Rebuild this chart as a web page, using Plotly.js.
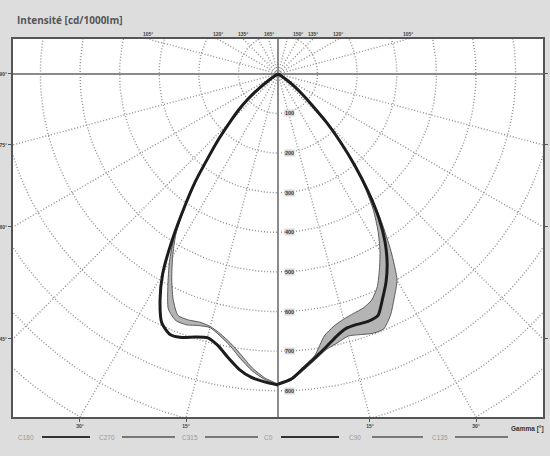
<!DOCTYPE html>
<html><head><meta charset="utf-8">
<script src="https://cdn.plot.ly/plotly-3.0.1.min.js"></script>
<style>html,body{margin:0;padding:0;background:#dddddd;}#chart{width:550px;height:456px;}</style>
</head><body><div id="chart"></div>
<script>
// ---- data (gamma in degrees, intensity in cd/1000lm) ----
const gammaDeg = [0,2.5,5,7.5,10,12.5,15,17.5,20,22.5,25,27.5,30,32.5,35,37.5,40,42.5,45,47.5,50,52.5,55,57.5,60];
// left half-planes
const C180 = [785,778,769,752,727,702,689,696,708,712,694,645,582,497,414,343,271,218,171,135,98,62,30,8,0];
const C270 = [783,768,745,715,690,672,660,657,661,660,627,581,532,480,410,338,268,215,168,132,96,60,28,7,0];
const C315 = [784,772,752,725,697,677,663,666,674,674,655,602,548,488,412,340,270,216,170,134,97,61,29,8,0];
// right half-planes
const C0   = [783,771,745,722,700,679,665,663,665,660,625,591,551,503,444,373,301,234,174,116,80,52,28,10,0];
const C90  = [786,774,750,727,706,695,685,690,697,697,672,636,601,531,455,376,303,235,175,117,81,53,29,10,0];
const C135 = [782,768,742,716,672,652,641,634,629,618,593,555,515,470,420,360,295,225,170,113,78,50,27,9,0];

const legendNames = ['C180','C270','C315','C0','C90','C135'];
const radialLabels = [100,200,300,400,500,600,700,800];
const gridRadii = [100,200,300,400,500,600,700,800,900,1000,1100,1200];
const sideAngles = [90,75,60,45];
const bottomAngles = [30,15];
const topAnglesLeft = [105,120,135,165];
const topAnglesRight = [150,135,120,105];

// ---- geometry ----
const XR = [-669, 669], YR = [-866, 88];
const rad = d => d*Math.PI/180;
function toXY(vals, side){
  return {x: vals.map((r,i)=> side*r*Math.sin(rad(gammaDeg[i]))),
          y: vals.map((r,i)=> -r*Math.cos(rad(gammaDeg[i])))};
}
const traces = [];
// grid circles
let gx=[], gy=[];
gridRadii.forEach(r=>{
  for(let a=0;a<=360;a+=2){gx.push(r*Math.sin(rad(a))); gy.push(-r*Math.cos(rad(a)));}
  gx.push(null); gy.push(null);
});
// radial lines
for(let a=-165;a<=165;a+=15){
  if(a===0||Math.abs(a)===90) continue;
  gx.push(0, 1400*Math.sin(rad(a)), null);
  gy.push(0, -1400*Math.cos(rad(a)), null);
}
traces.push({x:gx,y:gy,mode:'lines',line:{color:'#8f8f8f',width:1.4,dash:'1px,2px'},hoverinfo:'skip',showlegend:false});

function band(outer, inner, side){
  const o = toXY(outer, side), n = toXY(inner, side);
  return {x:o.x.concat(n.x.slice().reverse()), y:o.y.concat(n.y.slice().reverse()),
          mode:'lines', fill:'toself', fillcolor:'#b4b4b4', line:{width:0,shape:'spline',smoothing:0.6},
          hoverinfo:'skip', showlegend:false};
}
traces.push(band(C315, C270, -1));
traces.push(band(C90, C135, 1));
function curve(vals, side, name, thick){
  const p = toXY(vals, side);
  return {x:p.x, y:p.y, name:name, mode:'lines', showlegend:false,
          line:{color: thick?'#1c1c1c':'#5a5a5a', width: thick?3:1, shape:'spline', smoothing:0.6}};
}
traces.push(curve(C270,-1,'C270',false));
traces.push(curve(C315,-1,'C315',false));
traces.push(curve(C90,1,'C90',false));
traces.push(curve(C135,1,'C135',false));
traces.push(curve(C180,-1,'C180',true));
traces.push(curve(C0,1,'C0',true));

// ---- annotations ----
const px = x => (x-13)/530, py = y => (417-y)/378;
const ann = [];
ann.push({text:'Intensité [cd/1000lm]', xref:'paper', yref:'paper', x:px(15), y:py(20), xanchor:'left', yanchor:'middle',
  showarrow:false, font:{family:'Open Sans', size:10, color:'#555', weight:'bold'}});
ann.push({text:'Gamma [°]', xref:'paper', yref:'paper', x:px(546), y:py(429), xanchor:'right', yanchor:'middle',
  showarrow:false, font:{family:'Liberation Sans', size:6.5, color:'#333', weight:'bold'}});
radialLabels.forEach(r=>{
  ann.push({text:String(r), x:30, y:-r, xref:'x', yref:'y', showarrow:false, xanchor:'center', yanchor:'middle',
    font:{family:'Liberation Sans', size:5.5, color:'#3a3a3a', weight:'bold'}, bgcolor:'#d8d8d8', borderpad:0});
});
function topX(a){ return -YR[1]*Math.tan(rad(a)); }
topAnglesLeft.forEach(a=>{
  ann.push({text:a+'°', x:-topX(a), y:YR[1], xref:'x', yref:'y', showarrow:false, yanchor:'bottom', yshift:0,
    font:{family:'Liberation Sans', size:5, color:'#444', weight:'bold'}});
});
topAnglesRight.forEach(a=>{
  ann.push({text:a+'°', x:topX(a), y:YR[1], xref:'x', yref:'y', showarrow:false, yanchor:'bottom', yshift:0,
    font:{family:'Liberation Sans', size:5, color:'#444', weight:'bold'}});
});
// legend
const legTextX = [26,107,190,268,355,440];
const legLine = [[42,90],[122,175],[205,258],[281,339],[372,423],[455,508]];
const shapes = [];
legendNames.forEach((n,i)=>{
  ann.push({text:n, xref:'paper', yref:'paper', x:px(legTextX[i]), y:py(437), showarrow:false,
    xanchor:'center', yanchor:'middle', font:{family:'Liberation Sans', size:6.5, color:'#9a9a9a'}});
  const thick = (n==='C180'||n==='C0');
  shapes.push({type:'line', xref:'paper', yref:'paper', x0:px(legLine[i][0]), x1:px(legLine[i][1]),
    y0:py(437), y1:py(437), line:{color: thick?'#333':'#555', width: thick?2:1.3}});
});

const sideTickVals = sideAngles.map(a=> a===90?0: XR[0]/Math.tan(rad(a)));
const bottomTickVals = [-1,1].flatMap(s=> (s<0?bottomAngles:bottomAngles.slice().reverse()).map(a=> s*(-YR[0])*Math.tan(rad(a))));
const bottomTickText = bottomAngles.map(a=>a+'°').concat(bottomAngles.slice().reverse().map(a=>a+'°'));

const layout = {
  width:550, height:456,
  margin:{l:13, r:7, t:39, b:39, pad:0},
  paper_bgcolor:'#dddddd', plot_bgcolor:'#ffffff',
  showlegend:false,
  xaxis:{range:XR, showgrid:false, zeroline:true, zerolinecolor:'#8a8a8a', zerolinewidth:1.5,
    showline:true, linecolor:'#555', linewidth:2, mirror:true,
    tickmode:'array', tickvals:bottomTickVals, ticktext:bottomTickText, ticks:'outside', ticklen:3, tickcolor:'#555',
    tickfont:{family:'Liberation Sans', size:5, color:'#444', weight:'bold'}, fixedrange:true},
  yaxis:{range:YR, showgrid:false, zeroline:true, zerolinecolor:'#8a8a8a', zerolinewidth:1.5,
    showline:true, linecolor:'#555', linewidth:2, mirror:'ticks',
    tickmode:'array', tickvals:sideTickVals, ticktext:sideAngles.map(a=>a+'°'), ticks:'outside', ticklen:3, tickcolor:'#555',
    tickfont:{family:'Liberation Sans', size:5, color:'#444', weight:'bold'}, fixedrange:true},
  annotations:ann, shapes:shapes
};
Plotly.newPlot('chart', traces, layout, {staticPlot:true, displayModeBar:false});
</script></body></html>
